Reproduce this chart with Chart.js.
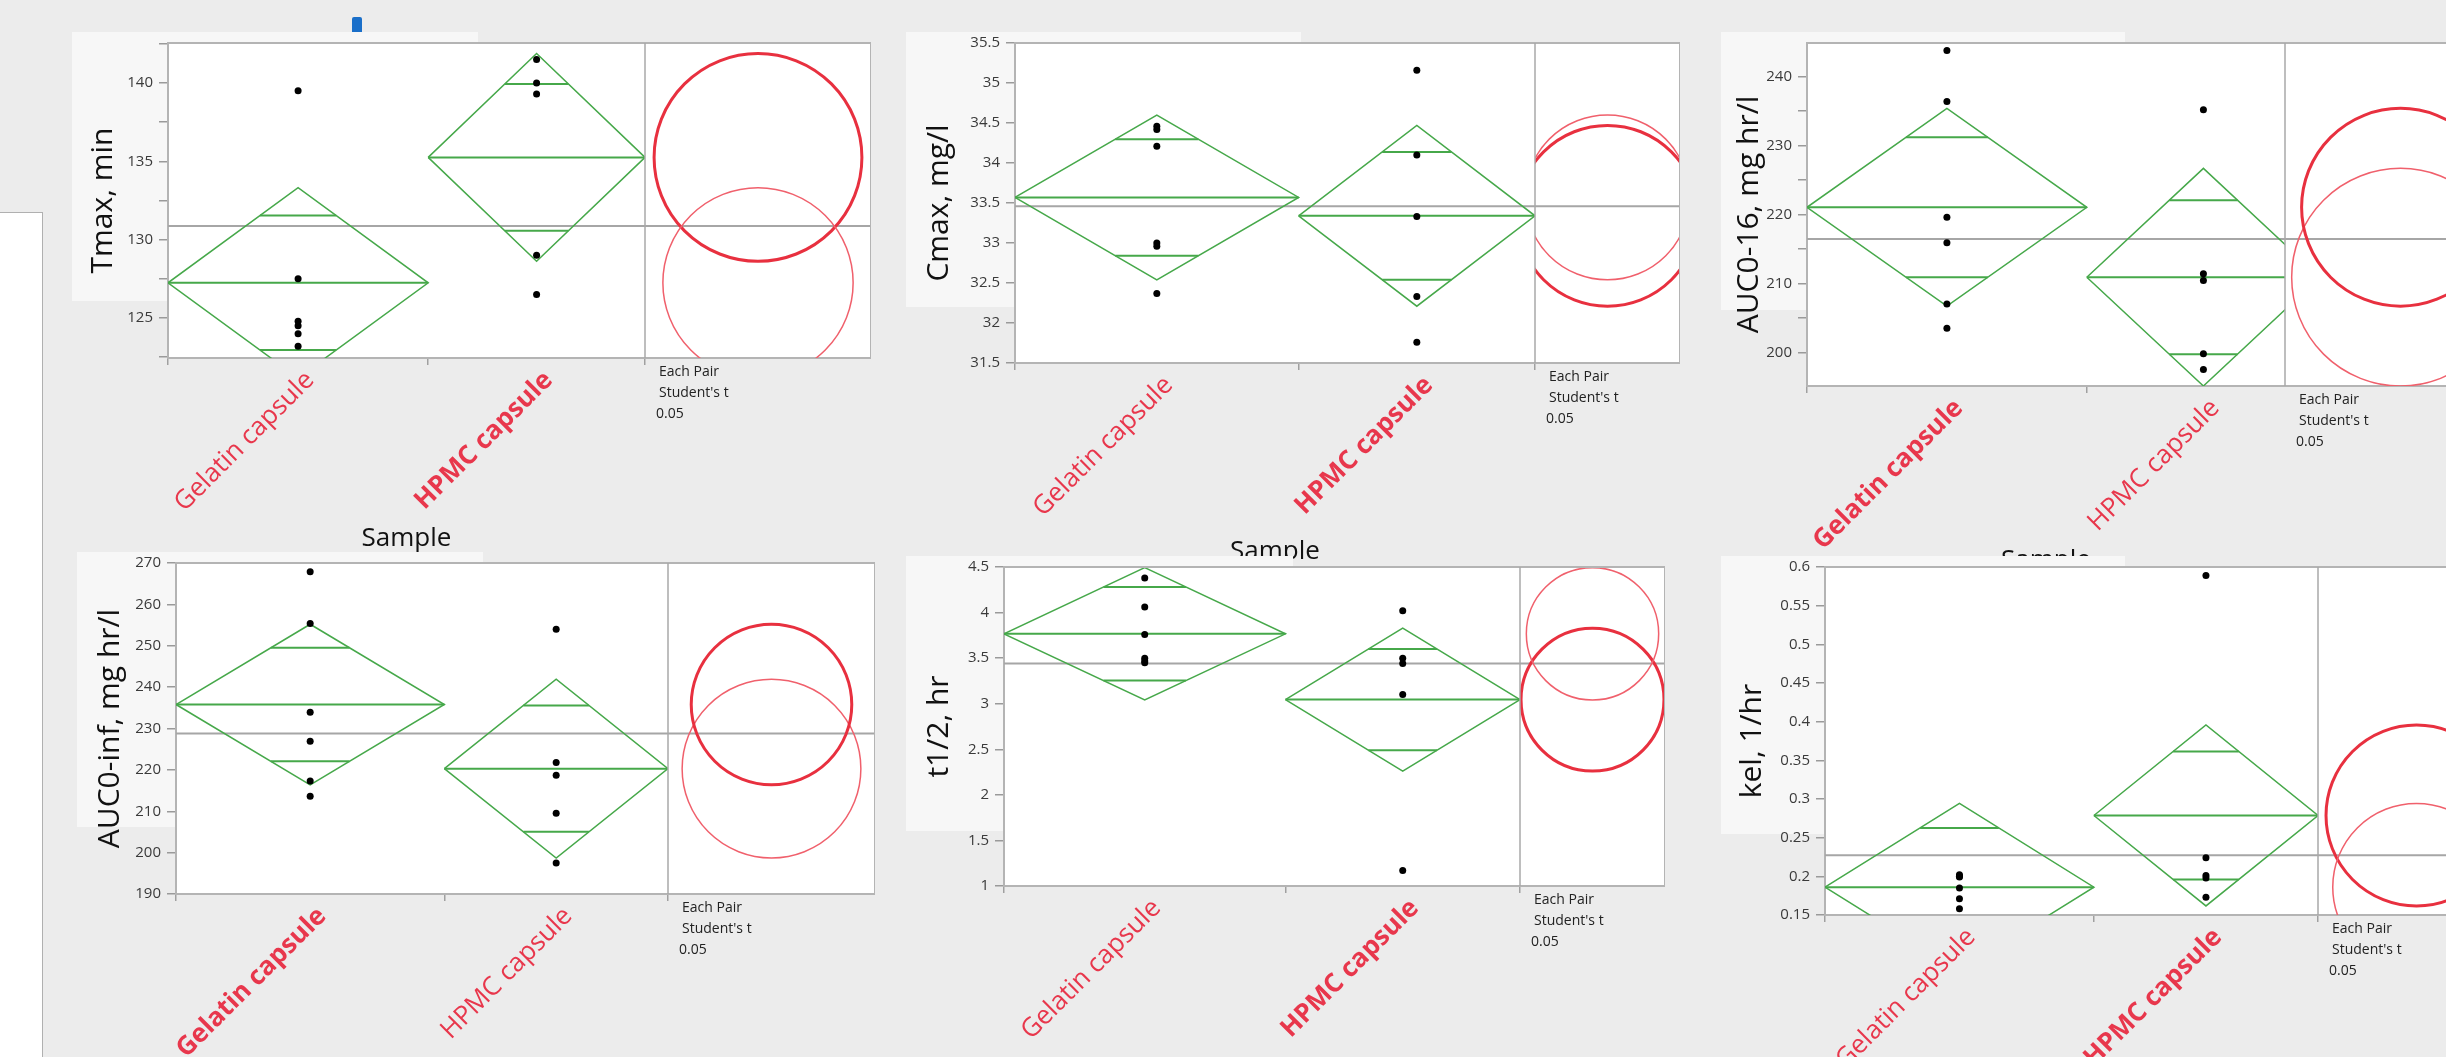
<!DOCTYPE html>
<html>
<head>
<meta charset="utf-8">
<script src="https://cdn.jsdelivr.net/npm/chart.js@4.4.1/dist/chart.umd.min.js"></script>
<style>
  html, body { margin: 0; overflow: hidden; }
  body { width: 2446px; height: 1057px; background: #ececec; position: relative; font-family: "Open Sans", "Noto Sans", sans-serif; }
  .box { position: absolute; background: #f7f7f7; }
  canvas { position: absolute; }
  .sample { position: absolute; font-size: 26px; line-height: 31px; color: #111; transform: translate(-50%, -50%); white-space: nowrap; }
  .note { position: absolute; font-size: 14px; line-height: 21px; color: #222; white-space: nowrap; }
  .note span { display: block; }
</style>
</head>
<body>
<script>
// groups on the x axis (widths follow sample size, like JMP)
const categories = ['Gelatin capsule', 'HPMC capsule'];
const groupSizes = [6, 5];

const yTitles = ['Tmax, min', 'Cmax, mg/l', 'AUC0-16, mg hr/l', 'AUC0-inf, mg hr/l', 't1/2, hr', 'kel, 1/hr'];

// raw observations, one row per panel
const gelatinValues = [
  [139.5, 127.5, 124.8, 124.5, 124.0, 123.2],
  [34.46, 34.42, 34.21, 33.0, 32.96, 32.37],
  [243.8, 236.4, 219.6, 215.9, 207.0, 203.5],
  [267.9, 255.4, 233.9, 226.9, 217.3, 213.6],
  [4.38, 4.06, 3.76, 3.50, 3.47, 3.45],
  [0.202, 0.200, 0.199, 0.185, 0.171, 0.158]
];
const hpmcValues = [
  [141.5, 140.0, 139.3, 129.0, 126.5],
  [35.16, 34.10, 33.33, 32.33, 31.76],
  [235.2, 211.4, 210.4, 199.8, 197.5],
  [254.0, 221.8, 218.7, 209.5, 197.5],
  [4.02, 3.50, 3.44, 3.10, 1.17],
  [0.589, 0.224, 0.201, 0.198, 0.173]
];

// means diamonds: group mean and 95% CI half width, plus grand mean
const groupMeans = [
  [127.25, 135.25], [33.57, 33.34], [221.05, 210.9],
  [235.8, 220.3], [3.767, 3.045], [0.186, 0.2787]
];
const ciHalfWidths = [
  [6.07, 6.63], [1.03, 1.13], [14.36, 15.8],
  [19.4, 21.6], [0.726, 0.784], [0.1083, 0.117]
];
const grandMeans = [130.88, 33.46, 216.45, 228.8, 3.44, 0.2272];

// y axes
const yRanges = [[122.45, 142.55], [31.5, 35.5], [195.1, 244.9], [190, 270], [1, 4.5], [0.15, 0.6]];
const yTickSteps = [5, 0.5, 10, 10, 0.5, 0.05];
const yMinorSteps = [2.5, 0.5, 5, 10, 0.5, 0.05];

// which group is selected (bold label, thick circle)
const boldGroup = [1, 1, 0, 0, 1, 1];

// page layout in px: plot box, where the group axis ends, circle panel edges
const frames = [
  {left: 168, top: 43, bottom: 358, mainEnd: 645, divider: 645, right: 871, titleX: 103, sampleY: 536},
  {left: 1015, top: 43, bottom: 363, mainEnd: 1535, divider: 1535, right: 1680, titleX: 939, sampleY: 549},
  {left: 1807, top: 43, bottom: 386, mainEnd: 2320, divider: 2285, right: 2516, titleX: 1749, sampleY: 558},
  {left: 176, top: 563, bottom: 894, mainEnd: 668, divider: 668, right: 875, titleX: 110},
  {left: 1004, top: 567, bottom: 886, mainEnd: 1520, divider: 1520, right: 1665, titleX: 939},
  {left: 1825, top: 567, bottom: 915, mainEnd: 2318, divider: 2318, right: 2515, titleX: 1752}
];
const shades = [
  [72, 32, 478, 301], [906, 32, 1301, 307], [1721, 32, 2125, 310],
  [77, 552, 483, 827], [906, 556, 1293, 831], [1721, 556, 2125, 834]
];

const RED = '#e8374c';
const GREEN = '#46a84a';
const FONT = '"Open Sans", "Noto Sans", sans-serif';
Chart.defaults.font.family = FONT;
Chart.defaults.color = '#333';

// white plot, frame, divider, and clipping of the two regions
const framePlugin = {
  id: 'frame',
  beforeDraw(chart) {
    const {ctx, chartArea: a} = chart;
    ctx.save();
    ctx.fillStyle = '#fff';
    ctx.fillRect(a.left, a.top, a.right - a.left, a.bottom - a.top);
    ctx.restore();
  },
  beforeDatasetDraw(chart, args, opts) {
    const ds = chart.data.datasets[args.index];
    if (!ds.region) return;
    const {ctx, chartArea: a} = chart;
    const xd = chart.scales.x.getPixelForValue(opts.divider);
    ctx.save();
    ctx.beginPath();
    if (ds.region === 'main') ctx.rect(a.left, a.top - 2, xd - a.left, a.bottom - a.top + 4);
    else ctx.rect(xd, a.top, a.right - xd, a.bottom - a.top);
    ctx.clip();
  },
  afterDatasetDraw(chart, args) {
    if (chart.data.datasets[args.index].region) chart.ctx.restore();
  },
  afterDatasetsDraw(chart, args, opts) {
    const {ctx, chartArea: a} = chart;
    const xd = chart.scales.x.getPixelForValue(opts.divider);
    ctx.save();
    ctx.strokeStyle = '#b4b4b4';
    ctx.lineWidth = 2;
    ctx.beginPath();
    ctx.moveTo(a.left, a.top);
    ctx.lineTo(a.right, a.top);
    ctx.lineTo(a.right, a.bottom);
    ctx.stroke();
    ctx.strokeStyle = '#a8a8a8';
    ctx.lineWidth = 1.5;
    ctx.beginPath();
    ctx.moveTo(xd, a.top);
    ctx.lineTo(xd, a.bottom);
    ctx.stroke();
    ctx.restore();
  }
};

function add(tag, cls, style, html) {
  const e = document.createElement(tag);
  if (cls) e.className = cls;
  Object.assign(e.style, style);
  if (html) e.innerHTML = html;
  document.body.appendChild(e);
  return e;
}

function yTicksFor(p) {
  const [lo, hi] = yRanges[p], step = yTickSteps[p], minor = yMinorSteps[p];
  const out = [];
  for (let k = Math.ceil(lo / minor - 1e-9); k * minor <= hi + 1e-9; k++) {
    const v = +(k * minor).toFixed(6);
    out.push({value: v, major: Math.abs(v / step - Math.round(v / step)) < 1e-6});
  }
  return out;
}

function line(points, width) {
  return {data: points, showLine: true, borderColor: GREEN, borderWidth: width, pointRadius: 0, region: 'main'};
}

function drawPanel(p) {
  const f = frames[p];
  const total = groupSizes[0] + groupSizes[1];
  const unit = (f.mainEnd - f.left) / total;
  const xMax = (f.right - f.left) / unit;
  const xDiv = (f.divider - f.left) / unit;
  const edges = [0, groupSizes[0], total];
  const centers = [groupSizes[0] / 2, groupSizes[0] + groupSizes[1] / 2];
  const circleX = (xDiv + xMax) / 2;

  const padTop = 20, yWidth = f.left - (f.titleX - 22);
  const canvasLeft = f.left - yWidth, canvasTop = f.top - padTop;
  const xHeight = p < 3 ? 200 : 1100 - f.bottom;
  const cv = add('canvas', null, {left: canvasLeft + 'px', top: canvasTop + 'px'});
  cv.width = f.right - canvasLeft;
  cv.height = f.bottom + xHeight - canvasTop;

  const datasets = [{
    data: gelatinValues[p].map(v => ({x: centers[0], y: v}))
      .concat(hpmcValues[p].map(v => ({x: centers[1], y: v}))),
    pointRadius: 3.5, pointBackgroundColor: '#000', pointBorderWidth: 0, region: 'main'
  }];

  [0, 1].forEach(k => {
    const m = groupMeans[p][k], h = ciHalfWidths[p][k];
    const x0 = edges[k], x1 = edges[k + 1], xc = centers[k];
    const o = h / Math.SQRT2, dx = (x1 - x0) / 2 * (1 - 1 / Math.SQRT2);
    datasets.push(line([{x: x0, y: m}, {x: xc, y: m + h}, {x: x1, y: m}, {x: xc, y: m - h}, {x: x0, y: m}], 1.5));
    datasets.push(line([{x: x0, y: m}, {x: x1, y: m}], 2));
    datasets.push(line([{x: xc - dx, y: m + o}, {x: xc + dx, y: m + o}], 2));
    datasets.push(line([{x: xc - dx, y: m - o}, {x: xc + dx, y: m - o}], 2));
    const sel = boldGroup[p] === k;
    datasets.push({
      data: [{x: circleX, y: m}],
      pointRadius: ctx => {
        const ys = ctx.chart.scales.y;
        return Math.abs(ys.getPixelForValue(m) - ys.getPixelForValue(m + h)) || 1;
      },
      pointBorderColor: sel ? '#e8303f' : '#f0606c',
      pointBorderWidth: sel ? 3 : 1.5,
      pointBackgroundColor: 'rgba(0,0,0,0)',
      region: 'circle'
    });
  });

  datasets.push({
    data: [{x: 0, y: grandMeans[p]}, {x: xMax, y: grandMeans[p]}],
    showLine: true, borderColor: '#a6a6a6', borderWidth: 2, pointRadius: 0
  });

  const xTicks = [0, centers[0], edges[1], centers[1]];
  if (edges[2] <= xDiv + 1e-6) xTicks.push(edges[2]);
  const isLabel = v => v === centers[0] || v === centers[1];

  new Chart(cv, {
    type: 'scatter',
    data: {datasets},
    plugins: [framePlugin],
    options: {
      responsive: false,
      animation: false,
      events: [],
      layout: {padding: {top: padTop, left: 0, right: 0, bottom: 0}, autoPadding: false},
      plugins: {legend: {display: false}, tooltip: {enabled: false}, frame: {divider: xDiv}},
      scales: {
        x: {
          type: 'linear', min: 0, max: xMax,
          afterBuildTicks: s => { s.ticks = xTicks.map(v => ({value: v})); },
          afterFit: s => { s.height = xHeight; s.paddingLeft = s.paddingRight = s.paddingTop = s.paddingBottom = 0; },
          grid: {
            drawOnChartArea: false, drawTicks: true, tickLength: 7, lineWidth: 1.5,
            tickColor: ctx => (ctx.tick && isLabel(ctx.tick.value)) ? 'rgba(0,0,0,0)' : '#a0a0a0'
          },
          border: {display: true, color: '#b4b4b4', width: 2},
          ticks: {
            autoSkip: false, minRotation: 45, maxRotation: 45, padding: 0, labelOffset: 12,
            color: RED,
            font: ctx => ({family: FONT, size: 26,
              weight: ctx.tick && ctx.tick.value === centers[boldGroup[p]] ? 'bold' : 'normal'}),
            callback: v => v === centers[0] ? categories[0] : (v === centers[1] ? categories[1] : '')
          }
        },
        y: {
          type: 'linear', min: yRanges[p][0], max: yRanges[p][1],
          afterBuildTicks: s => { s.ticks = yTicksFor(p); },
          afterFit: s => { s.width = yWidth; s.paddingLeft = s.paddingRight = s.paddingTop = s.paddingBottom = 0; },
          grid: {drawOnChartArea: false, drawTicks: true, tickLength: 9, color: '#9a9a9a', lineWidth: 1.5},
          border: {display: true, color: '#b4b4b4', width: 2},
          ticks: {
            padding: 6, color: '#3a3a3a', font: {family: FONT, size: 15},
            callback: (v, i, ticks) => ticks[i].major ? String(v) : ''
          },
          title: {display: true, text: yTitles[p], color: '#111', font: {family: FONT, size: 30}}
        }
      }
    }
  });

  add('div', 'note', {left: (f.divider + 11) + 'px', top: (f.bottom + 1.5) + 'px'},
    '<span style="padding-left:3px">Each Pair</span><span style="padding-left:3px">Student\'s t</span><span>0.05</span>');
  if (f.sampleY) add('div', 'sample', {left: ((f.left + f.divider) / 2) + 'px', top: f.sampleY + 'px'}, 'Sample');
}

// side panel and the small blue marker of the screenshot
add('div', null, {position: 'absolute', left: '-2px', top: '212px', width: '43px', height: '900px',
  background: '#fff', border: '1px solid #b0b0b0'});
add('div', null, {position: 'absolute', left: '352px', top: '17px', width: '10px', height: '15px',
  background: '#1a6fc9', borderRadius: '2px 2px 0 0'});

[[0, 1, 2], [3, 4, 5]].forEach(row => {
  row.forEach(p => {
    const [x0, y0, x1, y1] = shades[p];
    add('div', 'box', {left: x0 + 'px', top: y0 + 'px', width: (x1 - x0) + 'px', height: (y1 - y0) + 'px'});
  });
  row.forEach(drawPanel);
});
</script>
</body>
</html>
